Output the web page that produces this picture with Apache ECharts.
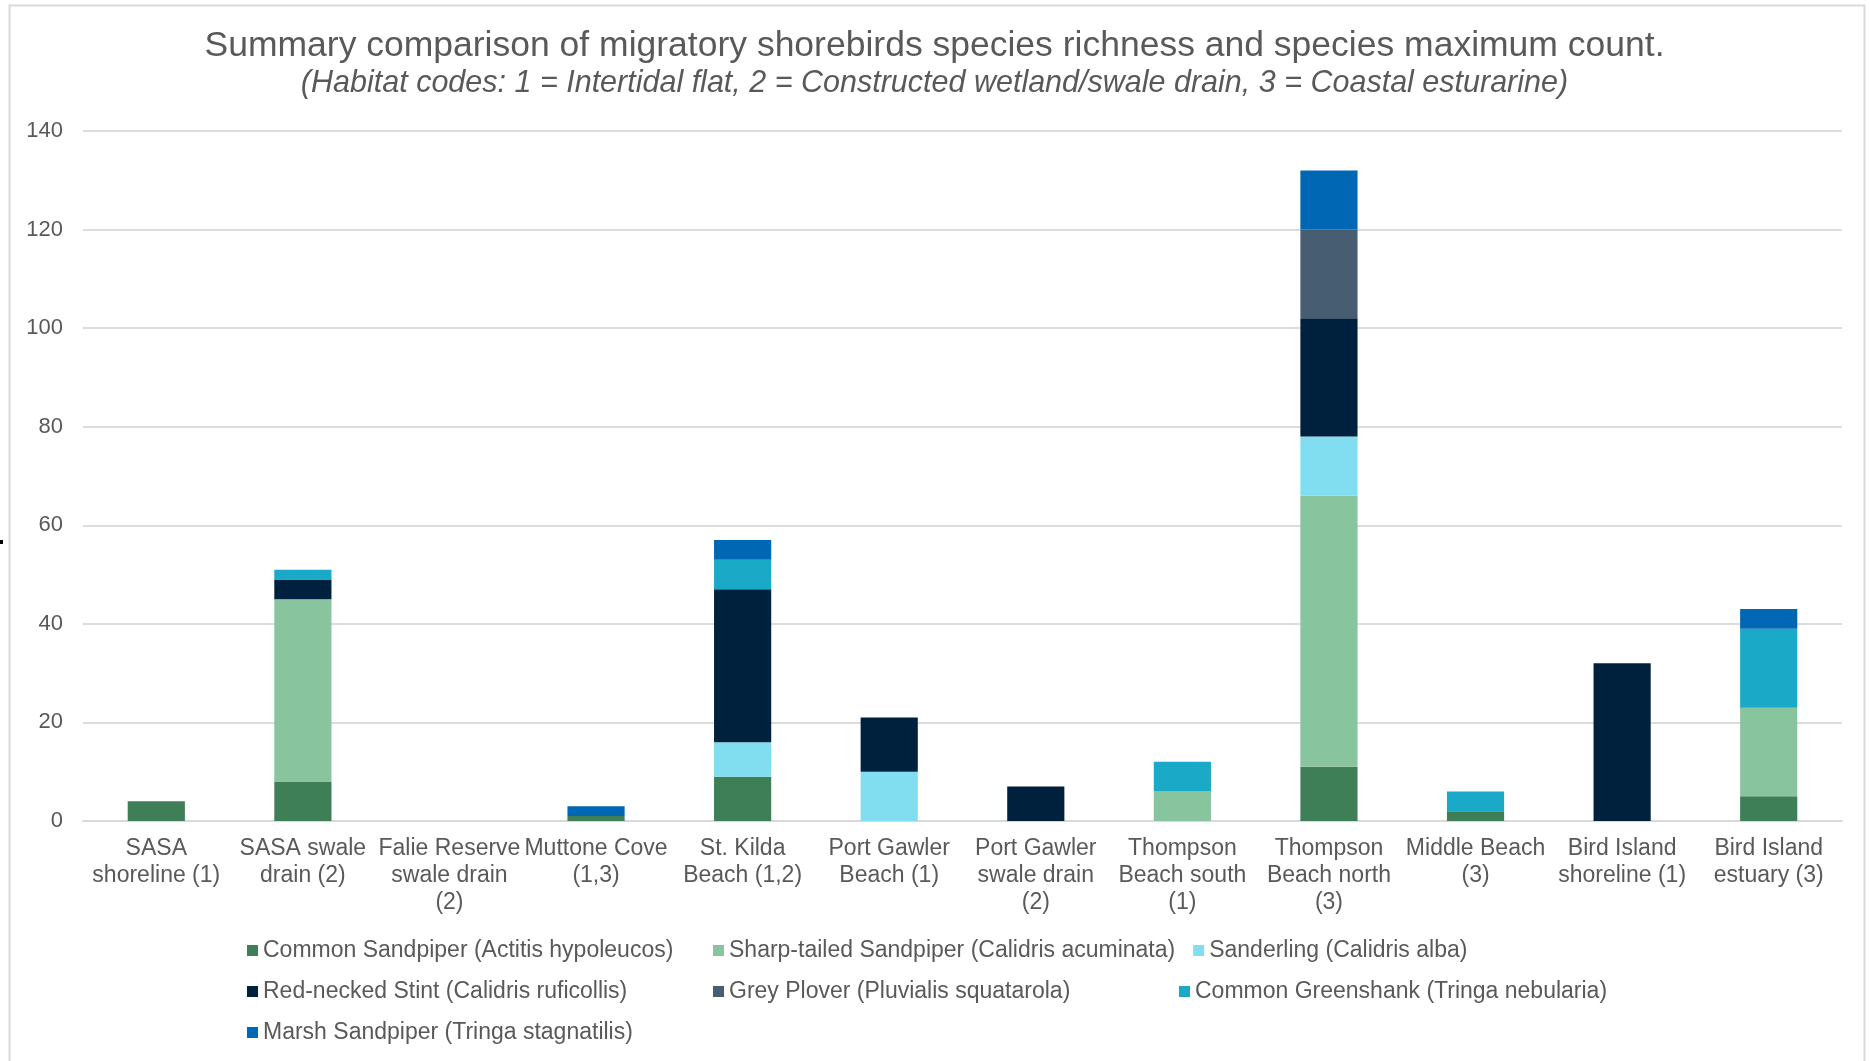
<!DOCTYPE html>
<html>
<head>
<meta charset="utf-8">
<title>Migratory shorebirds summary</title>
<script src="https://cdn.jsdelivr.net/npm/echarts@6/dist/echarts.min.js"></script>
<style>
  html, body { margin: 0; padding: 0; background: #ffffff; }
  #chart { width: 1869px; height: 1061px; }
</style>
</head>
<body>
<div id="chart"></div>
<script>
// Survey sites (habitat code in brackets), with wrapped axis labels
const siteLabels = [
  'SASA\nshoreline (1)',
  'SASA swale\ndrain (2)',
  'Falie Reserve\nswale drain\n(2)',
  'Muttone Cove\n(1,3)',
  'St. Kilda\nBeach (1,2)',
  'Port Gawler\nBeach (1)',
  'Port Gawler\nswale drain\n(2)',
  'Thompson\nBeach south\n(1)',
  'Thompson\nBeach north\n(3)',
  'Middle Beach\n(3)',
  'Bird Island\nshoreline (1)',
  'Bird Island\nestuary (3)'
];

// Maximum count per species at each site
const commonSandpiper      = [4, 8, 0, 1, 9, 0, 0, 0, 11, 2, 0, 5];
const sharpTailedSandpiper = [0, 37, 0, 0, 0, 0, 0, 6, 55, 0, 0, 18];
const sanderling           = [0, 0, 0, 0, 7, 10, 0, 0, 12, 0, 0, 0];
const redNeckedStint       = [0, 4, 0, 0, 31, 11, 7, 0, 24, 0, 32, 0];
const greyPlover           = [0, 0, 0, 0, 0, 0, 0, 0, 18, 0, 0, 0];
const commonGreenshank     = [0, 2, 0, 0, 6, 0, 0, 6, 0, 4, 0, 16];
const marshSandpiper       = [0, 0, 0, 2, 4, 0, 0, 0, 12, 0, 0, 4];

const speciesNames = [
  'Common Sandpiper (Actitis hypoleucos)',
  'Sharp-tailed Sandpiper (Calidris acuminata)',
  'Sanderling (Calidris alba)',
  'Red-necked Stint (Calidris ruficollis)',
  'Grey Plover (Pluvialis squatarola)',
  'Common Greenshank (Tringa nebularia)',
  'Marsh Sandpiper (Tringa stagnatilis)'
];
const speciesData = [
  commonSandpiper, sharpTailedSandpiper, sanderling, redNeckedStint,
  greyPlover, commonGreenshank, marshSandpiper
];
const speciesColors = ['#3f7f57', '#88c49e', '#80def0', '#00213d', '#475e72', '#1aa9c6', '#0067b5'];

const yTicks = { min: 0, max: 140, interval: 20 };

const FONT = '"Liberation Sans", Arial, sans-serif';
const TEXT = '#595959';

const chart = echarts.init(document.getElementById('chart'), null, { renderer: 'canvas' });

chart.setOption({
  backgroundColor: '#ffffff',
  animation: false,
  title: {
    text: 'Summary comparison of migratory shorebirds species richness and species maximum count.',
    subtext: '(Habitat codes: 1 = Intertidal flat, 2 = Constructed wetland/swale drain, 3 = Coastal esturarine)',
    left: 'center',
    top: 28,
    itemGap: 3,
    padding: 0,
    textStyle: { fontFamily: FONT, fontSize: 35.5, fontWeight: 'normal', color: TEXT, lineHeight: 37 },
    subtextStyle: { fontFamily: FONT, fontSize: 30.5, fontStyle: 'italic', color: TEXT, lineHeight: 31 }
  },
  legend: {
    left: 247,
    top: 939,
    width: 1500,
    padding: 0,
    itemGap: 18,
    itemWidth: 11,
    itemHeight: 11,
    icon: 'rect',
    selectedMode: false,
    textStyle: { fontFamily: FONT, fontSize: 23, color: TEXT, width: 432, lineHeight: 22 },
    data: speciesNames
  },
  grid: { left: 83, right: 27, top: 131, bottom: 240, containLabel: false },
  xAxis: {
    type: 'category',
    data: siteLabels,
    axisTick: { show: false },
    axisLine: { lineStyle: { color: '#d9d9d9', width: 2 } },
    axisLabel: {
      interval: 0,
      margin: 14,
      fontFamily: FONT,
      fontSize: 23,
      lineHeight: 27,
      color: TEXT,
      align: 'center'
    }
  },
  yAxis: {
    type: 'value',
    min: yTicks.min,
    max: yTicks.max,
    interval: yTicks.interval,
    axisLine: { show: false },
    axisTick: { show: false },
    splitLine: { lineStyle: { color: '#dcdcdc', width: 2 } },
    axisLabel: { margin: 20, fontFamily: FONT, fontSize: 22, color: TEXT }
  },
  series: speciesNames.map((name, i) => ({
    name: name,
    type: 'bar',
    stack: 'total',
    barWidth: '39%',
    itemStyle: { color: speciesColors[i] },
    data: speciesData[i]
  })),
  graphic: [
    {
      type: 'rect',
      shape: { x: 9.5, y: 5.5, width: 1855, height: 1070 },
      style: { fill: 'none', stroke: '#d9d9d9', lineWidth: 2 },
      silent: true
    },
    {
      type: 'rect',
      shape: { x: 0, y: 540, width: 3, height: 4 },
      style: { fill: '#000000' },
      silent: true
    }
  ]
});
</script>
</body>
</html>
